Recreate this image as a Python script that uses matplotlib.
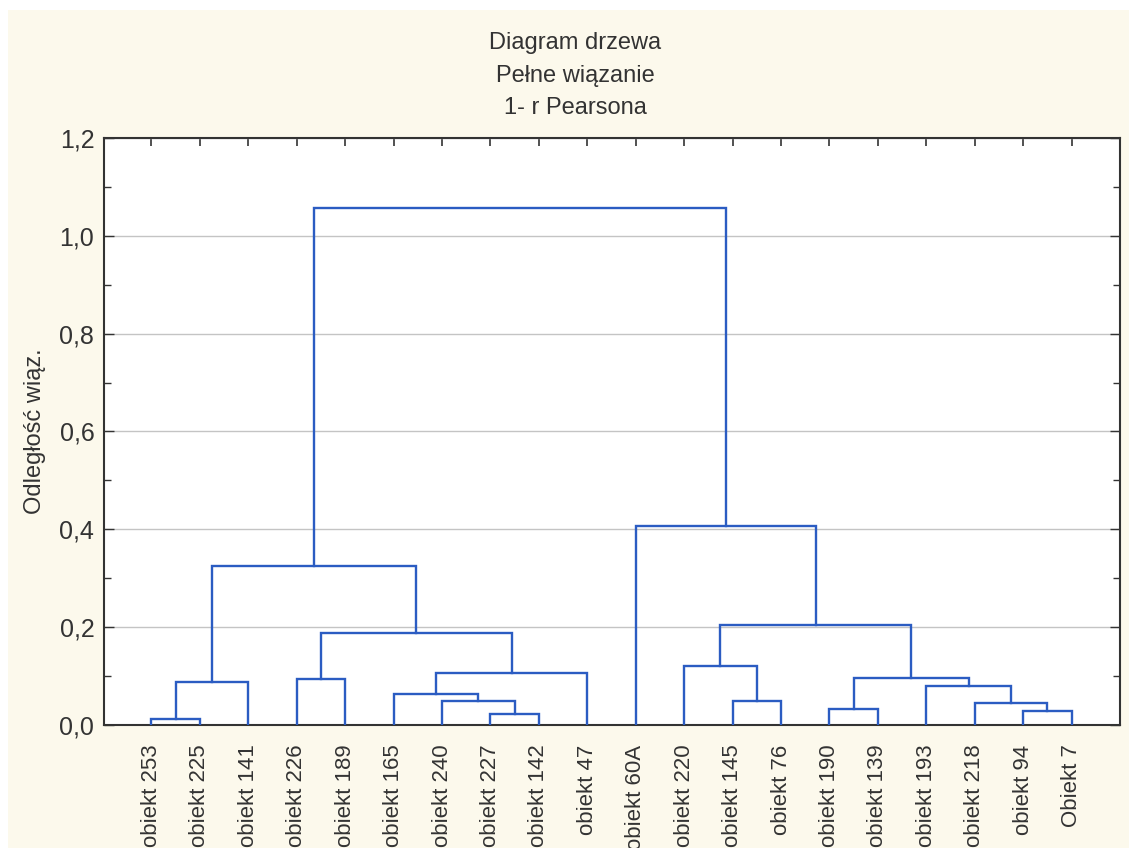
import numpy as np
import matplotlib.pyplot as plt
from matplotlib.ticker import MultipleLocator, FuncFormatter
from matplotlib.patches import Rectangle

plt.rcParams['font.family'] = ['Liberation Sans', 'DejaVu Sans']

# Leaves in dendrogram order
leaves = ['obiekt 253', 'obiekt 225', 'obiekt 141', 'obiekt 226', 'obiekt 189',
          'obiekt 165', 'obiekt 240', 'obiekt 227', 'obiekt 142', 'obiekt 47',
          'obiekt 60A', 'obiekt 220', 'obiekt 145', 'obiekt 76', 'obiekt 190',
          'obiekt 139', 'obiekt 193', 'obiekt 218', 'obiekt 94', 'Obiekt 7']

# Merges: (left node, right node, linkage distance); new nodes numbered from 20
merge_left = [0, 20, 3, 7, 6, 5, 25, 22, 21, 12, 11, 14, 18, 17, 16, 31, 30, 10, 28]
merge_right = [1, 2, 4, 8, 23, 24, 9, 26, 27, 13, 29, 15, 19, 32, 33, 34, 35, 36, 37]
merge_height = [0.012, 0.087, 0.095, 0.023, 0.049, 0.064, 0.106, 0.189, 0.325,
                0.049, 0.120, 0.033, 0.029, 0.045, 0.079, 0.097, 0.205, 0.407, 1.057]

line_col = '#2b5cc2'
text_col = '#333333'

fig = plt.figure(figsize=(11.29, 8.48), dpi=100)
fig.patch.set_facecolor('#fcf9ec')
# thin white border strips at top and left, as in the screenshot
fig.patches.append(Rectangle((0, 1 - 10 / 848), 1, 10 / 848, transform=fig.transFigure,
                             facecolor='white', edgecolor='none', zorder=0))
fig.patches.append(Rectangle((0, 0), 8 / 1129, 1, transform=fig.transFigure,
                             facecolor='white', edgecolor='none', zorder=0))

ax = fig.add_axes([104 / 1129, 1 - 725 / 848, (1120 - 104) / 1129, (725 - 138) / 848])
ax.set_facecolor('white')

# node positions
xpos = {i: i + 1 for i in range(len(leaves))}
ypos = {i: 0.0 for i in range(len(leaves))}
n = len(leaves)
for k, (a, b, h) in enumerate(zip(merge_left, merge_right, merge_height)):
    xa, xb = xpos[a], xpos[b]
    ax.plot([xa, xa, xb, xb], [ypos[a], h, h, ypos[b]], color=line_col, lw=1.7,
            solid_joinstyle='miter', zorder=3)
    xpos[n + k] = (xa + xb) / 2
    ypos[n + k] = h

ax.set_xlim(0.02, 21.0)
ax.set_ylim(0, 1.2)
ax.yaxis.set_major_locator(MultipleLocator(0.2))
ax.yaxis.set_minor_locator(MultipleLocator(0.1))
ax.yaxis.set_major_formatter(FuncFormatter(lambda v, p: f'{v:.1f}'.replace('.', ',')))
ax.set_xticks(np.arange(1, n + 1))
ax.set_xticklabels(leaves, rotation=90, fontsize=16, color=text_col)
ax.grid(axis='y', which='major', color='#c4c4c4', lw=1.0, zorder=0)

ax.tick_params(axis='y', which='both', direction='in', right=True, labelsize=18,
               labelcolor=text_col, pad=7, color='#333333')
ax.tick_params(axis='y', which='major', length=7, width=1)
ax.tick_params(axis='y', which='minor', length=5, width=1)
ax.tick_params(axis='x', direction='in', top=True, bottom=False, length=6, width=1.2,
               pad=14, color='#333333')
for s in ax.spines.values():
    s.set_color('#333333')
    s.set_linewidth(1.5)

ax.set_ylabel('Odległość wiąz.', fontsize=17, color=text_col, labelpad=10)

fig.text(575 / 1129, 1 - 43 / 848, 'Diagram drzewa', ha='center', va='center',
         fontsize=17, color=text_col)
fig.text(575 / 1129, 1 - 76 / 848, 'Pełne wiązanie', ha='center', va='center',
         fontsize=17, color=text_col)
fig.text(575 / 1129, 1 - 108 / 848, '1- r Pearsona', ha='center', va='center',
         fontsize=17, color=text_col)

fig.savefig('out.png', dpi=100, facecolor=fig.get_facecolor())
